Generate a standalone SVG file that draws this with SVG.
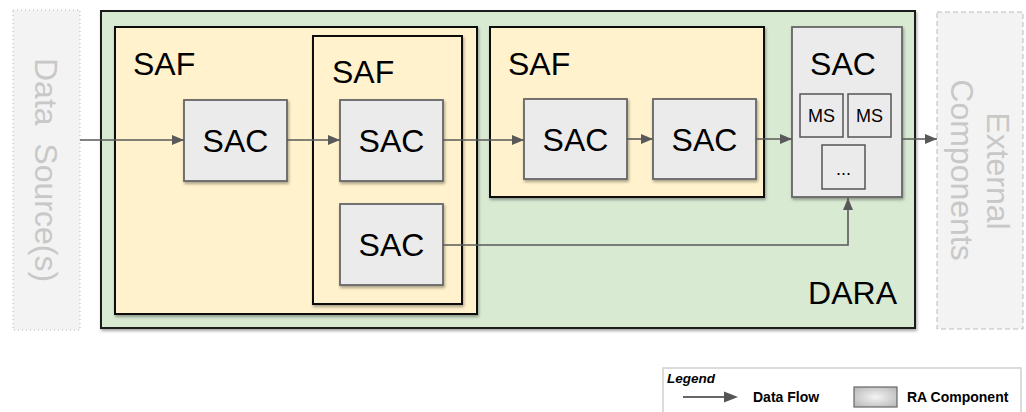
<svg xmlns="http://www.w3.org/2000/svg" width="1026" height="412" viewBox="0 0 1026 412">
<style>
text{font-family:"Liberation Sans",Arial,sans-serif;}
.lbl{font-size:32px;fill:#000;}
.ext{font-size:32px;fill:#c8c8c8;}
.dara{fill:#d9ead3;stroke:#1a1a1a;stroke-width:2;}
.saf{fill:#fff2cc;stroke:#111;stroke-width:2;}
.sac{fill:#ebebeb;stroke:#666;stroke-width:1.8;}
.ms{fill:#ebebeb;stroke:#555;stroke-width:1.5;}
.flow{fill:none;stroke:#595959;stroke-width:1.6;}
.leg{font-size:14px;font-weight:bold;fill:#000;}
</style>
<defs>
<filter id="sh" x="-10%" y="-10%" width="120%" height="120%">
<feDropShadow dx="1" dy="2" stdDeviation="1.5" flood-color="#000" flood-opacity="0.35"/>
</filter>
<marker id="ah" viewBox="0 0 12 10" refX="12" refY="5" markerWidth="12" markerHeight="10" markerUnits="userSpaceOnUse" orient="auto">
<path d="M0,0 L12,5 L0,10 z" fill="#595959"/>
</marker>
<radialGradient id="rg" cx="50%" cy="50%" r="60%">
<stop offset="0" stop-color="#f4f4f4"/>
<stop offset="1" stop-color="#bdbdbd"/>
</radialGradient>
</defs>
<rect width="1026" height="412" fill="#fff"/>

<g id="data-sources">
<rect x="13" y="10" width="67" height="320" fill="#f3f3f3" stroke="#b5b5b5" stroke-width="1" stroke-dasharray="1,3"/>
<text class="ext" transform="translate(35,170) rotate(90)" text-anchor="middle" xml:space="preserve">Data  Source(s)</text>
</g>

<g id="external-components">
<rect x="937" y="12" width="86" height="317" fill="#f3f3f3" stroke="#bbb" stroke-width="1" stroke-dasharray="5,3"/>
<text class="ext" transform="translate(987,171) rotate(90)" text-anchor="middle">External</text>
<text class="ext" transform="translate(951,170) rotate(90)" text-anchor="middle">Components</text>
</g>

<g id="dara">
<rect class="dara" x="101" y="11" width="814" height="317" filter="url(#sh)"/>
<text class="lbl" x="897" y="304" text-anchor="end">DARA</text>
</g>

<g id="saf1">
<rect class="saf" x="115" y="27" width="362" height="287" filter="url(#sh)"/>
<text class="lbl" x="133" y="75">SAF</text>
</g>

<g id="sac1">
<rect class="sac" x="184" y="100" width="103" height="81" filter="url(#sh)"/>
<text class="lbl" x="235.5" y="152" text-anchor="middle">SAC</text>
</g>

<g id="saf2">
<rect class="saf" x="313" y="36" width="149" height="268" filter="url(#sh)"/>
<text class="lbl" x="332" y="83">SAF</text>
</g>

<g id="sac2">
<rect class="sac" x="340" y="100" width="103" height="81" filter="url(#sh)"/>
<text class="lbl" x="391.5" y="152" text-anchor="middle">SAC</text>
</g>

<g id="sac3">
<rect class="sac" x="340" y="204" width="103" height="81" filter="url(#sh)"/>
<text class="lbl" x="391.5" y="256" text-anchor="middle">SAC</text>
</g>

<g id="saf3">
<rect class="saf" x="490" y="27" width="274" height="170" filter="url(#sh)"/>
<text class="lbl" x="508" y="75">SAF</text>
</g>

<g id="sac4">
<rect class="sac" x="524" y="99" width="103" height="80" filter="url(#sh)"/>
<text class="lbl" x="575.5" y="151" text-anchor="middle">SAC</text>
</g>

<g id="sac5">
<rect class="sac" x="653" y="99" width="103" height="80" filter="url(#sh)"/>
<text class="lbl" x="704.5" y="151" text-anchor="middle">SAC</text>
</g>

<g id="sac-ms">
<rect class="sac" x="792" y="27" width="110" height="170" filter="url(#sh)"/>
<text class="lbl" x="843" y="75" text-anchor="middle">SAC</text>
<rect class="ms" x="800" y="94" width="43" height="43"/>
<text x="821.5" y="122" font-size="18" text-anchor="middle">MS</text>
<rect class="ms" x="848" y="94" width="43" height="43"/>
<text x="869.5" y="122" font-size="18" text-anchor="middle">MS</text>
<rect class="ms" x="822" y="145" width="43" height="44"/>
<text x="843.5" y="175" font-size="18" text-anchor="middle">...</text>
</g>

<g id="connectors">
<line class="flow" x1="80" y1="140" x2="184" y2="140" marker-end="url(#ah)"/>
<line class="flow" x1="287" y1="140" x2="340" y2="140" marker-end="url(#ah)"/>
<line class="flow" x1="443" y1="140" x2="524" y2="140" marker-end="url(#ah)"/>
<line class="flow" x1="627" y1="139" x2="653" y2="139" marker-end="url(#ah)"/>
<line class="flow" x1="756" y1="139" x2="792" y2="139" marker-end="url(#ah)"/>
<line class="flow" x1="902" y1="139" x2="937" y2="139" marker-end="url(#ah)"/>
<polyline class="flow" points="443,245 848,245 848,198" marker-end="url(#ah)"/>
</g>

<g id="legend">
<rect x="663" y="368" width="358" height="60" fill="#fff" stroke="#cfcfcf" stroke-width="1.5"/>
<text x="667" y="383" font-size="13.5" font-weight="bold" font-style="italic">Legend</text>
<line x1="683" y1="397" x2="726" y2="397" stroke="#333" stroke-width="1.5"/>
<path d="M724,391.5 L738,397 L724,402.5 z" fill="#555"/>
<text class="leg" x="753" y="402">Data Flow</text>
<rect x="854" y="387" width="43" height="20" fill="url(#rg)" stroke="#666" stroke-width="1.2"/>
<text class="leg" x="907" y="402">RA Component</text>
</g>
</svg>
